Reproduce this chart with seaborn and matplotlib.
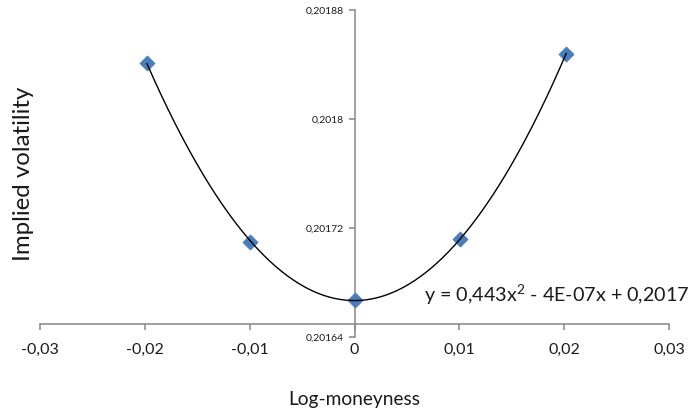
import numpy as np
import pandas as pd
import seaborn as sns
import matplotlib
matplotlib.use("Agg")
import matplotlib.pyplot as plt

# Smile observations: log-moneyness vs implied volatility
log_moneyness = [-0.0198, -0.00995, 0.0, 0.01005, 0.0202]
implied_vol = [0.201841, 0.201710, 0.201667, 0.201712, 0.201848]

x_ticks = [-0.03, -0.02, -0.01, 0.0, 0.01, 0.02, 0.03]
x_tick_labels = ["-0,03", "-0,02", "-0,01", "0", "0,01", "0,02", "0,03"]
y_ticks = [0.20164, 0.20172, 0.20180, 0.20188]
y_tick_labels = ["0,20164", "0,20172", "0,2018", "0,20188"]
trend_label = r"y = 0,443x$^\mathregular{2}$ - 4E-07x + 0,2017"

# where the horizontal axis crosses the vertical one
x_axis_cross = 0.2016492

sns.set_theme(style="white")
plt.rcParams["font.family"] = ["Lato", "DejaVu Sans"]
plt.rcParams["mathtext.default"] = "regular"

df = pd.DataFrame({"x": log_moneyness, "y": implied_vol})

# quadratic trend line through the observations
coef = np.polyfit(df["x"], df["y"], 2)
xs = np.linspace(df["x"].min(), df["x"].max(), 300)
trend = pd.DataFrame({"x": xs, "y": np.polyval(coef, xs)})

fig = plt.figure(figsize=(6.92, 4.18), dpi=100)
ax = fig.add_axes([40 / 692, 81 / 418, 629 / 692, 327 / 418])

sns.scatterplot(data=df, x="x", y="y", ax=ax, marker="D", s=60,
                color="#4A7EBB", edgecolor="#4A7EBB", linewidth=0.5, zorder=3)
sns.lineplot(data=trend, x="x", y="y", ax=ax, color="black", linewidth=1.0,
             estimator=None, sort=False, zorder=4)

ax.set_xlim(-0.03, 0.03)
ax.set_ylim(0.20164, 0.20188)

axis_grey = "#868686"
for side in ("top", "right"):
    ax.spines[side].set_visible(False)
ax.spines["left"].set_position(("data", 0.0))
ax.spines["bottom"].set_position(("data", x_axis_cross))
for side in ("left", "bottom"):
    ax.spines[side].set_color(axis_grey)
    ax.spines[side].set_linewidth(1.1)

ax.set_xticks(x_ticks)
ax.set_xticklabels(x_tick_labels)
ax.set_yticks(y_ticks)
ax.set_yticklabels(y_tick_labels)
ax.tick_params(axis="x", direction="out", length=4, width=1.1, color=axis_grey,
               pad=9.5, labelsize=11.5, labelcolor="#1a1a1a", bottom=True)
ax.tick_params(axis="y", direction="out", length=4.5, width=1.1, color=axis_grey,
               pad=3.5, labelsize=7.5, labelcolor="#1a1a1a", left=True)

ax.set_xlabel("Log-moneyness", fontsize=13.8, color="#1a1a1a")
ax.set_ylabel("Implied volatility", fontsize=17.3, color="#1a1a1a")
ax.xaxis.set_label_coords(0.5, -0.165)
ax.yaxis.set_label_coords(-0.009, 0.5)

ax.text((690 - 40) / 629, 0.128, trend_label, transform=ax.transAxes,
        ha="right", va="center", fontsize=14.2, color="#1a1a1a")

ax.grid(False)
fig.savefig("out.png", dpi=100)
